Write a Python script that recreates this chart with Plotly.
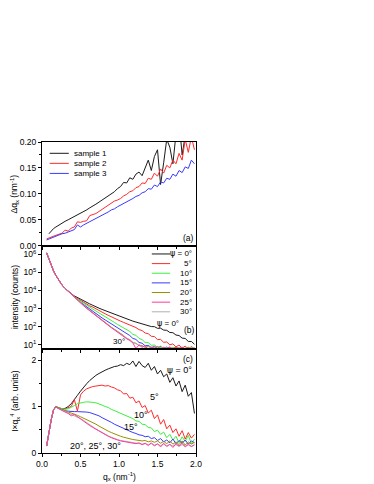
import plotly.graph_objects as go
from plotly.subplots import make_subplots

# scattering vector q_x (nm^-1), shared by all three panels
q = [0.06, 0.09, 0.12, 0.15, 0.18, 0.22, 0.26, 0.30, 0.34, 0.38,
     0.42, 0.46, 0.50, 0.54, 0.58, 0.62, 0.66, 0.70, 0.74, 0.78,
     0.82, 0.86, 0.90, 0.94, 0.98, 1.02, 1.06, 1.10, 1.14, 1.18,
     1.22, 1.26, 1.30, 1.34, 1.38, 1.42, 1.46, 1.50, 1.54, 1.58,
     1.62, 1.66, 1.70, 1.74, 1.78, 1.82, 1.86, 1.90, 1.94, 1.98]

# (a) peak width delta q_x per sample
samples = ["sample 1", "sample 2", "sample 3"]
sample_colors = ["#1a1a1a", "#ff2a2a", "#3a3aff"]
dq_s1 = [None, 0.023, 0.029, 0.033, 0.036, 0.040, 0.044, 0.047, 0.050, 0.053,
         0.056, 0.060, 0.063, 0.066, 0.069, 0.073, 0.076, 0.080, 0.084, 0.088,
         0.092, 0.096, 0.101, 0.104, 0.110, 0.114, 0.122, 0.121, 0.131, 0.128,
         0.138, 0.142, 0.135, 0.150, 0.165, 0.145, 0.172, 0.185, 0.118, 0.160,
         0.205, 0.190, 0.158, 0.215, 0.240, 0.175, 0.225, 0.250, 0.215, 0.235]
dq_s2 = [0.013, 0.015, 0.016, 0.018, 0.020, 0.022, 0.024, 0.030, 0.028, 0.034,
         0.036, 0.046, 0.045, 0.047, 0.048, 0.058, 0.060, 0.062, 0.066, 0.070,
         0.074, 0.079, 0.083, 0.086, 0.088, 0.091, 0.096, 0.099, 0.104, 0.106,
         0.112, 0.114, 0.121, 0.120, 0.130, 0.128, 0.140, 0.134, 0.148, 0.140,
         0.155, 0.150, 0.165, 0.158, 0.178, 0.165, 0.205, 0.180, 0.210, 0.185]
dq_s3 = [0.011, 0.013, 0.015, 0.017, 0.019, 0.021, 0.023, 0.024, 0.026, 0.029,
         0.031, 0.040, 0.036, 0.040, 0.043, 0.046, 0.049, 0.052, 0.055, 0.058,
         0.062, 0.065, 0.069, 0.071, 0.075, 0.078, 0.081, 0.084, 0.088, 0.091,
         0.095, 0.097, 0.102, 0.104, 0.110, 0.109, 0.117, 0.114, 0.123, 0.121,
         0.130, 0.128, 0.138, 0.134, 0.145, 0.141, 0.152, 0.149, 0.165, 0.158]

# (b) intensity (counts) per azimuth psi
PSI = "<span style='font-family:DejaVu Sans'>\u03c8</span>"
angles = [PSI + " = 0\u00b0", "5\u00b0", "10\u00b0", "15\u00b0", "20\u00b0", "25\u00b0", "30\u00b0"]
angle_colors = ["#1a1a1a", "#ff2a2a", "#3cf03c", "#3a3aff", "#9a8f00", "#ff3a9e", "#b0b0b0"]
I_0 = [1.2e6, 5.2e5, 2.4e5, 1.2e5, 6.8e4, 3.5e4, 2.0e4, 1.3e4, 8.9e3, 6.6e3,
       5.0e3, 4.0e3, 3.2e3, 2.6e3, 2.1e3, 1.8e3, 1.5e3, 1.2e3, 1.05e3, 890,
       760, 650, 550, 470, 410, 355, 300, 265, 225, 200,
       178, 158, 150, 125, 122, 100, 99, 80, 81, 64,
       62, 47, 46, 34, 32, 23, 22, 15, 15, 10.5]
I_5 = [1.2e6, 5.2e5, 2.4e5, 1.2e5, 6.8e4, 3.5e4, 2.0e4, 1.3e4, 8.9e3, 6.3e3,
       4.7e3, 3.6e3, 2.8e3, 2.2e3, 1.8e3, 1.4e3, 1.2e3, 950, 780, 630,
       510, 420, 340, 280, 235, 200, 170, 145, 123, 102,
       88, 68, 60, 44, 40, 29, 28, 19, 19.5, 13.5,
       14, 9.8, 11, 7.5, 9.5, 6.2, 8.4, 5.6, 7.8, 6.0]
I_10 = [1.2e6, 5.2e5, 2.4e5, 1.2e5, 6.8e4, 3.5e4, 2.0e4, 1.3e4, 8.9e3, 6.2e3,
        4.5e3, 3.3e3, 2.5e3, 1.95e3, 1.5e3, 1.2e3, 930, 740, 575, 457,
        355, 275, 219, 170, 132, 105, 86, 63, 54, 37,
        33, 22, 19, 13, 12.8, 9.2, 9.6, 7.2, 8.3, 6.3,
        7.5, 5.4, 7.3, 6.1, 7.0, 5.0, 6.6, 5.8, 6.9, 5.5]
I_15 = [1.2e6, 5.2e5, 2.4e5, 1.2e5, 6.8e4, 3.5e4, 2.0e4, 1.3e4, 8.9e3, 6.0e3,
        4.3e3, 3.1e3, 2.2e3, 1.66e3, 1.23e3, 910, 690, 525, 400, 302,
        234, 182, 138, 107, 85, 62, 52, 37, 32, 22,
        19.5, 13.2, 12, 8.6, 9.2, 6.8, 8.0, 6.2, 7.6, 5.6,
        7.2, 6.4, 4.8, 6.9, 5.9, 7.0, 5.2, 6.4, 5.7, 6.3]
I_20 = [1.2e6, 5.2e5, 2.4e5, 1.2e5, 6.8e4, 3.5e4, 2.0e4, 1.3e4, 8.9e3, 5.9e3,
        4.1e3, 2.9e3, 2.0e3, 1.48e3, 1.07e3, 776, 562, 417, 309, 229,
        170, 126, 93, 73, 52, 41, 32, 22, 19, 13,
        12, 8.7, 9.0, 6.9, 7.9, 6.5, 7.4, 5.8, 7.1, 6.6,
        5.3, 7.0, 6.2, 7.4, 5.6, 6.8, 6.0, 7.2, 5.9, 6.5]
I_25 = [1.2e6, 5.2e5, 2.4e5, 1.2e5, 6.8e4, 3.5e4, 2.0e4, 1.3e4, 8.9e3, 5.8e3,
        4.0e3, 2.8e3, 1.95e3, 1.42e3, 1.02e3, 740, 535, 395, 292, 216,
        160, 118, 87, 66, 49, 38, 29, 21, 17, 12.5,
        6.0, 9.8, 7.0, 9.0, 4.5, 7.5, 6.2, 8.0, 5.0, 7.2,
        6.0, 7.6, 5.2, 6.8, 6.1, 7.3, 5.5, 6.7, 5.4, 6.4]
I_30 = [1.2e6, 5.2e5, 2.4e5, 1.2e5, 6.8e4, 3.5e4, 2.0e4, 1.3e4, 8.9e3, 5.8e3,
        4.0e3, 2.85e3, 1.98e3, 1.45e3, 1.04e3, 755, 545, 405, 298, 221,
        163, 121, 89, 68, 51, 39, 30, 22.5, 17.5, 13.5,
        11.2, 9.2, 8.1, 7.2, 7.8, 6.4, 7.3, 6.0, 6.9, 6.2,
        7.0, 5.7, 6.6, 6.0, 6.9, 5.8, 6.4, 6.1, 6.8, 5.9]

# (c) I x q_x^4 (arb. units) per azimuth psi
P_0 = [0.15, 0.45, 0.72, 0.93, 1.00, 0.97, 0.95, 0.96, 1.00, 1.06,
       1.14, 1.24, 1.33, 1.42, 1.49, 1.56, 1.62, 1.67, 1.71, 1.75,
       1.78, 1.81, 1.84, 1.86, 1.87, 1.90, 1.88, 1.93, 1.90, 1.98,
       1.86, 1.97, 1.88, 1.84, 1.93, 1.78, 1.86, 1.70, 1.78, 1.64,
       1.70, 1.52, 1.62, 1.44, 1.55, 1.32, 1.46, 1.22, 1.30, 0.85]
P_5 = [0.15, 0.45, 0.72, 0.93, 1.00, 0.97, 0.95, 0.95, 0.97, 1.00,
       1.15, 0.90, 1.25, 1.33, 1.38, 1.41, 1.43, 1.44, 1.45, 1.46,
       1.44, 1.45, 1.42, 1.40, 1.36, 1.34, 1.27, 1.28, 1.18, 1.20,
       1.08, 1.12, 0.98, 1.02, 0.86, 0.92, 0.74, 0.82, 0.62, 0.72,
       0.52, 0.60, 0.44, 0.52, 0.36, 0.48, 0.30, 0.44, 0.32, 0.40]
P_10 = [0.15, 0.45, 0.72, 0.93, 1.00, 0.97, 0.95, 0.94, 0.95, 0.98,
        1.02, 1.06, 1.08, 1.09, 1.10, 1.10, 1.09, 1.08, 1.06, 1.03,
        1.00, 0.98, 0.94, 0.91, 0.88, 0.86, 0.82, 0.80, 0.76, 0.74,
        0.69, 0.68, 0.62, 0.61, 0.55, 0.54, 0.46, 0.49, 0.40, 0.45,
        0.33, 0.40, 0.28, 0.36, 0.22, 0.35, 0.25, 0.38, 0.20, 0.30]
P_15 = [0.15, 0.45, 0.72, 0.93, 0.99, 0.96, 0.93, 0.91, 0.90, 0.89,
        0.89, 0.89, 0.89, 0.89, 0.88, 0.87, 0.85, 0.83, 0.80, 0.76,
        0.73, 0.70, 0.66, 0.62, 0.59, 0.56, 0.52, 0.50, 0.47, 0.44,
        0.42, 0.39, 0.38, 0.35, 0.36, 0.31, 0.33, 0.27, 0.31, 0.24,
        0.28, 0.22, 0.30, 0.20, 0.27, 0.21, 0.28, 0.19, 0.26, 0.22]
P_20 = [0.15, 0.45, 0.72, 0.93, 0.99, 0.96, 0.93, 0.90, 0.88, 0.86,
        0.84, 0.81, 0.78, 0.75, 0.72, 0.68, 0.65, 0.62, 0.58, 0.54,
        0.50, 0.47, 0.44, 0.41, 0.38, 0.36, 0.34, 0.32, 0.31, 0.29,
        0.28, 0.27, 0.26, 0.27, 0.24, 0.26, 0.23, 0.26, 0.21, 0.25,
        0.20, 0.26, 0.19, 0.24, 0.18, 0.26, 0.17, 0.24, 0.19, 0.23]
P_25 = [0.15, 0.45, 0.72, 0.93, 0.99, 0.95, 0.91, 0.88, 0.85, 0.80,
        0.83, 0.78, 0.74, 0.69, 0.64, 0.59, 0.55, 0.51, 0.47, 0.43,
        0.39, 0.36, 0.33, 0.30, 0.28, 0.26, 0.25, 0.23, 0.22, 0.21,
        0.20, 0.22, 0.18, 0.21, 0.16, 0.22, 0.15, 0.20, 0.13, 0.21,
        0.14, 0.19, 0.12, 0.20, 0.15, 0.21, 0.13, 0.19, 0.14, 0.18]
P_30 = [0.15, 0.45, 0.72, 0.93, 0.99, 0.95, 0.92, 0.89, 0.86, 0.83,
        0.81, 0.78, 0.74, 0.70, 0.65, 0.60, 0.56, 0.52, 0.48, 0.44,
        0.40, 0.37, 0.34, 0.31, 0.29, 0.27, 0.26, 0.24, 0.23, 0.22,
        0.21, 0.21, 0.19, 0.20, 0.18, 0.20, 0.17, 0.19, 0.16, 0.19,
        0.15, 0.18, 0.15, 0.18, 0.14, 0.18, 0.15, 0.17, 0.14, 0.17]

dq_series = [dq_s1, dq_s2, dq_s3]
I_series = [I_0, I_5, I_10, I_15, I_20, I_25, I_30]
P_series = [P_0, P_5, P_10, P_15, P_20, P_25, P_30]
draw_order = [0, 1, 2, 3, 4, 6, 5]  # 25 deg drawn last like the original

FONT = "Arial"

fig = make_subplots(rows=3, cols=1, shared_xaxes=True, vertical_spacing=0)

for ys, c in zip(dq_series, sample_colors):
    fig.add_trace(go.Scatter(x=q, y=ys, mode="lines", line=dict(color=c, width=1),
                             showlegend=False), row=1, col=1)
for i in draw_order:
    fig.add_trace(go.Scatter(x=q, y=I_series[i], mode="lines",
                             line=dict(color=angle_colors[i], width=1),
                             showlegend=False), row=2, col=1)
for i in draw_order:
    fig.add_trace(go.Scatter(x=q, y=P_series[i], mode="lines",
                             line=dict(color=angle_colors[i], width=1),
                             showlegend=False), row=3, col=1)

ax = dict(showline=True, linecolor="black", linewidth=1, mirror=True,
          ticks="outside", ticklen=3, tickcolor="black", showgrid=False,
          zeroline=False, tickfont=dict(family=FONT, size=8.5, color="black"))
for r in (1, 2, 3):
    fig.update_xaxes(ax, range=[0, 2.0], dtick=0.5, tick0=0, tickformat=".1f",
                     minor=dict(dtick=0.25, ticks="outside", ticklen=2, tickcolor="black"),
                     showticklabels=(r == 3), row=r, col=1)
fig.update_yaxes(ax, range=[0, 0.2], dtick=0.05, tickformat=".2f",
                 minor=dict(dtick=0.025, ticks="outside", ticklen=2, tickcolor="black"),
                 row=1, col=1)
fig.update_yaxes(ax, type="log", range=[0.74, 6.48],
                 tickvals=[1e1, 1e2, 1e3, 1e4, 1e5, 1e6],
                 ticktext=["10<sup>%d</sup>" % k for k in range(1, 7)],
                 row=2, col=1)
fig.update_yaxes(ax, range=[0, 2.23], dtick=1,
                 minor=dict(dtick=0.5, ticks="outside", ticklen=2, tickcolor="black"),
                 row=3, col=1)

ann = []
def txt(text, x, y, xref, yref, size=8.5, xanchor="center", **kw):
    ann.append(dict(text=text, x=x, y=y, xref=xref, yref=yref, showarrow=False,
                    xanchor=xanchor, yanchor="middle",
                    font=dict(family=FONT, size=size, color="black"), **kw))

# legends drawn by hand: short line swatch + label
shapes = []
for k, (name, c) in enumerate(zip(samples, sample_colors)):
    yy = 0.891 - 0.097 * k
    shapes.append(dict(type="line", xref="x domain", yref="y domain",
                       x0=0.05, x1=0.174, y0=yy, y1=yy, line=dict(color=c, width=1)))
    txt(name, 0.196, yy, "x domain", "y domain", size=8, xanchor="left")
for k, (name, c) in enumerate(zip(angles, angle_colors)):
    yy = 0.92 - 0.093 * k
    shapes.append(dict(type="line", xref="x domain", yref="y2 domain",
                       x0=0.713, x1=0.832, y0=yy, y1=yy, line=dict(color=c, width=1)))
    txt(name, 0.984, yy, "x domain", "y2 domain", size=8, xanchor="right")

# panel labels and curve labels
txt("(a)", 1.9, 0.015, "x", "y")
txt("(b)", 1.91, 1.79, "x", "y2")
txt(PSI + " = 0\u00b0", 1.63, 2.17, "x", "y2", size=8)
txt("30\u00b0", 1.0, 1.15, "x", "y2", size=8)
txt("(c)", 1.9, 2.03, "x", "y3")
txt(PSI + " = 0\u00b0", 1.79, 1.79, "x", "y3", size=9)
txt("5\u00b0", 1.46, 1.21, "x", "y3", size=9)
txt("10\u00b0", 1.29, 0.81, "x", "y3", size=9)
txt("15\u00b0", 1.16, 0.56, "x", "y3", size=9)
txt("20\u00b0, 25\u00b0, 30\u00b0", 0.70, 0.14, "x", "y3", size=9)

# axis titles
txt("\u0394q<sub>x</sub> (nm<sup>-1</sup>)", -0.178, 0.5, "paper", "y domain", textangle=-90)
txt("intensity (counts)", -0.178, 0.5, "paper", "y2 domain", textangle=-90)
txt("I\u00d7q<sub>x</sub><sup>4</sup> (arb. units)", -0.178, 0.5, "paper", "y3 domain", textangle=-90)
txt("q<sub>x</sub> (nm<sup>-1</sup>)", 0.5, -0.074, "paper", "paper")

# the page adds an 8 px body margin, so the figure is drawn 8 px smaller
fig.update_layout(width=366, height=476, margin=dict(l=32, r=178, t=134, b=31),
                  plot_bgcolor="white", paper_bgcolor="white",
                  annotations=ann, shapes=shapes, showlegend=False,
                  font=dict(family=FONT, size=8.5, color="black"))

fig.write_html("out.html")
